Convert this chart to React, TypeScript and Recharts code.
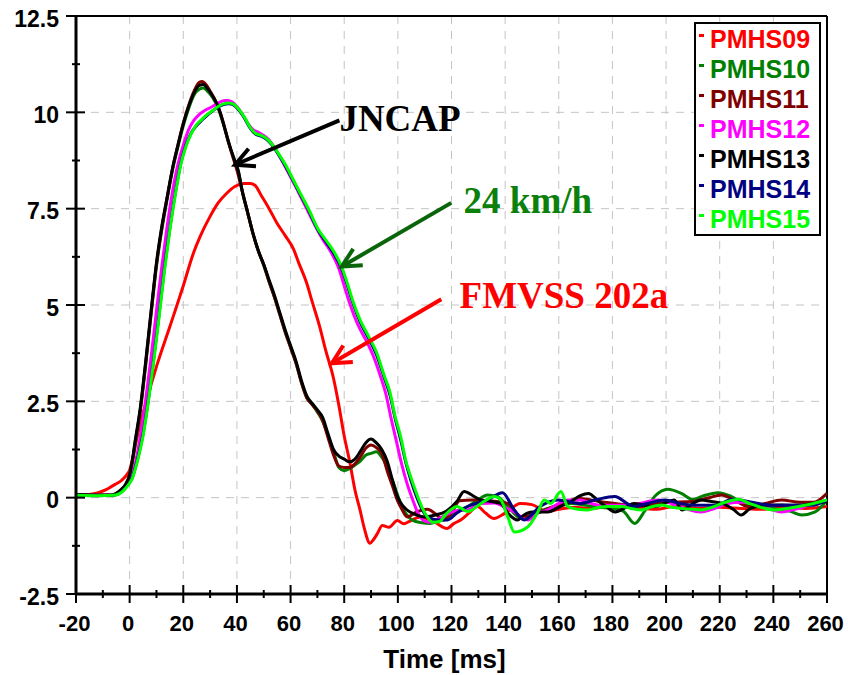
import React from 'react';
import { LineChart, Line, XAxis, YAxis, CartesianGrid, ReferenceLine, ReferenceDot, Legend, Label } from 'recharts';

type Pt = [number, number];

const pmhs09: Pt[] = [[-20,0.06],[-15,0.08],[-12,0.12],[-9,0.2],[-7,0.28],[-5,0.36],[-3,0.45],[-1,0.6],[0,0.72],[1.5,1.14],[3,1.65],[6.4,2.54],[10,3.4],[15,4.44],[20,5.5],[23.8,6.35],[26.3,6.78],[30,7.3],[33,7.65],[36.2,7.9],[39.4,8.08],[42.4,8.15],[45,8.15],[46.8,8.1],[49,7.85],[52,7.5],[54.9,7.13],[58,6.8],[61.1,6.45],[63,6.1],[66,5.57],[68,5.1],[71,4.4],[73,3.85],[76,3.1],[78,2.4],[80,1.6],[82,0.95],[84,0.2],[86,-0.35],[87.4,-0.77],[89.6,-1.18],[91,-1.08],[92.3,-0.94],[94.2,-0.72],[96.7,-0.77],[99.8,-0.59],[102.2,-0.68],[104.7,-0.6],[108.4,-0.5],[113.4,-0.62],[118.4,-0.8],[120.7,-0.68],[123.4,-0.58],[126.5,-0.4],[129.6,-0.23],[132.7,-0.4],[135.8,-0.54],[140,-0.4],[145.7,-0.15],[150,-0.18],[155.7,-0.36],[160,-0.3],[166,-0.25],[172,-0.28],[180,-0.22],[188,-0.25],[196,-0.3],[204,-0.22],[212,-0.28],[220,-0.25],[228,-0.28],[236,-0.3],[244,-0.25],[252,-0.28],[260,-0.23]];

const pmhs10: Pt[] = [[-20,0.08],[-12,0.07],[-7,0.07],[-3.5,0.18],[-1.5,0.32],[0,0.56],[1,0.9],[2,1.35],[4,2.25],[6,3.45],[8,4.75],[10,6.0],[12,6.95],[14,7.75],[16,8.5],[18,9.1],[20,9.65],[22,10.1],[24,10.45],[26,10.6],[27.5,10.63],[29,10.55],[31,10.38],[33,10.1],[35,9.68],[37,9.18],[39,8.78],[40.5,8.48],[42,7.95],[44,7.4],[46,6.85],[48,6.4],[50,6.02],[52,5.6],[54,5.2],[56,4.75],[58,4.3],[60,3.9],[62,3.5],[64,3.0],[66,2.6],[68,2.42],[70,2.22],[72,1.98],[74,1.6],[76,1.2],[78,0.78],[80,0.7],[82,0.75],[84,0.85],[86,0.95],[88,1.1],[90,1.15],[92,1.19],[94,1.05],[96,0.8],[98,0.45],[100,0.05],[102,-0.3],[104,-0.5],[106,-0.6],[109,-0.65],[112,-0.67],[115,-0.6],[118.5,-0.5],[122,-0.35],[126,-0.23],[130,-0.05],[133.4,0.07],[137,0.03],[141,-0.23],[146,-0.54],[150,-0.45],[155,-0.3],[160,-0.2],[165,-0.15],[170,-0.2],[175,-0.25],[180,-0.28],[184,-0.35],[188.3,-0.67],[192,-0.35],[196,0.05],[200.7,0.22],[205.7,0.11],[210,-0.05],[214,0.05],[219.4,0.13],[224.4,0.03],[230,-0.2],[236,-0.25],[242,-0.3],[246,-0.35],[250.6,-0.45],[255.6,-0.37],[260,-0.06]];

const pmhs11: Pt[] = [[-20,0.08],[-12,0.07],[-7,0.07],[-3.5,0.18],[-1.5,0.33],[0,0.58],[1,0.93],[2,1.4],[4,2.3],[6,3.5],[8,4.8],[10,6.05],[12,7.0],[14,7.8],[16,8.55],[18,9.15],[20,9.72],[22,10.18],[24,10.55],[26,10.78],[27,10.8],[28.5,10.72],[30,10.55],[32,10.3],[34,9.95],[36,9.45],[38,8.95],[40,8.5],[42,7.95],[44,7.4],[46,6.85],[48,6.4],[50,6.05],[52,5.6],[54,5.2],[56,4.75],[58,4.3],[60,3.9],[62,3.5],[64,3.0],[66,2.6],[68,2.42],[70,2.25],[72,2.0],[74,1.55],[76,1.11],[78,0.82],[80,0.78],[82,0.78],[84,0.88],[86,1.06],[88,1.28],[90,1.37],[92,1.3],[94,1.15],[96,0.7],[98,0.3],[100,-0.1],[101.5,-0.3],[103.5,-0.5],[107,-0.37],[111,-0.3],[114,-0.42],[117,-0.58],[120,-0.4],[123,-0.08],[128,-0.06],[134,-0.08],[141,-0.15],[146,-0.5],[152,-0.4],[159.6,-0.19],[168,-0.02],[175,-0.1],[181,-0.15],[190,-0.22],[200,-0.12],[210,-0.1],[216,0.0],[220.7,0.07],[225,-0.05],[230.7,-0.23],[237,-0.15],[243,-0.06],[250,-0.12],[255,-0.12],[260,0.11]];

const pmhs12: Pt[] = [[-20,0.07],[-12,0.06],[-6,0.07],[-2.2,0.22],[0,0.42],[1,0.58],[2,0.85],[3,1.2],[4,1.6],[6,2.55],[8,3.65],[10,4.85],[12,6.0],[14,7.05],[16,7.95],[18,8.65],[20,9.15],[22,9.55],[24,9.8],[26,9.95],[28,10.05],[30,10.12],[32,10.2],[34,10.28],[36,10.31],[38,10.28],[40,10.15],[42,9.95],[44,9.72],[46,9.55],[48,9.48],[50,9.4],[52,9.28],[54,9.08],[57,8.72],[60,8.32],[63,7.92],[66,7.5],[69,7.08],[72,6.7],[75,6.38],[78,5.95],[80,5.5],[82,5.05],[85,4.5],[88,4.1],[91,3.65],[93.5,3.15],[95.5,2.7],[97.5,2.05],[99.5,1.45],[101.5,0.85],[103.5,0.35],[105.5,-0.05],[107.5,-0.4],[109.6,-0.59],[112,-0.64],[115,-0.55],[118,-0.45],[121,-0.35],[126,-0.32],[131,-0.15],[136,-0.14],[140,-0.25],[143.4,-0.37],[148.4,-0.58],[152,-0.4],[155.9,-0.32],[160,-0.15],[163.3,-0.06],[168,-0.06],[172,-0.15],[176,-0.2],[180,-0.2],[185,-0.2],[190,-0.15],[197,-0.06],[203,-0.18],[208,-0.3],[213,-0.37],[218,-0.28],[223,-0.15],[228,-0.12],[233,-0.15],[238,-0.28],[243,-0.37],[248,-0.3],[253,-0.2],[260,-0.06]];

const pmhs13: Pt[] = [[-20,0.08],[-12,0.06],[-7,0.06],[-3.5,0.19],[-1.5,0.35],[0,0.6],[1,0.97],[2,1.45],[4,2.35],[6,3.55],[8,4.85],[10,6.1],[12,7.05],[14,7.8],[16,8.55],[18,9.15],[20,9.7],[22,10.15],[24,10.5],[26,10.7],[27.5,10.72],[29,10.62],[31,10.42],[33,10.15],[35,9.7],[37,9.2],[39,8.78],[40.5,8.48],[42,7.95],[44,7.4],[46,6.85],[48,6.4],[50,6.05],[52,5.65],[54,5.25],[56,4.8],[58,4.35],[60,3.95],[62,3.55],[64,3.05],[66,2.65],[68,2.45],[70,2.28],[72,2.08],[74,1.65],[76,1.25],[78,1.08],[80,1.0],[82,0.93],[84,1.0],[86,1.2],[88,1.42],[90,1.52],[92,1.42],[94,1.25],[96,0.95],[98,0.45],[100,0.0],[102,-0.22],[104,-0.35],[106,-0.42],[110,-0.5],[114,-0.45],[118,-0.35],[122,-0.1],[124.7,0.16],[128,0.05],[131,-0.06],[135,-0.1],[138.4,-0.15],[141,-0.4],[144.6,-0.58],[147,-0.45],[150,-0.37],[155.9,-0.37],[160,-0.25],[164,-0.12],[168,0.05],[171,0.11],[175,-0.1],[178,-0.25],[181,-0.37],[185,-0.25],[188,-0.15],[192,-0.2],[196,-0.23],[200,-0.12],[203,-0.06],[206,-0.32],[209,-0.2],[213,-0.06],[217,-0.1],[221,-0.15],[225,-0.3],[228,-0.45],[231,-0.3],[236,-0.2],[243,-0.19],[250,-0.2],[255,-0.15],[260,-0.1]];

const pmhs14: Pt[] = [[-20,0.06],[-12,0.05],[-6,0.06],[-2.2,0.2],[0,0.4],[1,0.52],[2,0.75],[3.3,1.1],[5,1.65],[7,2.55],[9,3.62],[11,4.78],[13,5.98],[15,7.0],[17,7.9],[19,8.65],[21,9.15],[23,9.47],[25,9.66],[27,9.8],[29,9.93],[31,10.04],[33,10.14],[35,10.2],[37,10.22],[39,10.18],[41,10.03],[43,9.83],[45,9.58],[47,9.43],[49,9.38],[51,9.3],[53,9.16],[55,8.96],[58,8.62],[61,8.22],[64,7.82],[67,7.42],[70,6.97],[73,6.66],[76,6.35],[79,5.95],[81,5.55],[83,5.1],[86,4.55],[89,4.15],[92,3.72],[95,3.1],[97,2.68],[99,2.05],[101,1.52],[103,0.9],[105,0.42],[107,0.02],[109,-0.3],[111,-0.5],[112.2,-0.54],[115,-0.58],[118.5,-0.58],[122,-0.4],[126,-0.23],[133.4,-0.06],[139,0.13],[143.4,-0.32],[147.1,-0.58],[153,-0.23],[159.6,-0.06],[168,-0.15],[174,-0.05],[180.8,0.03],[188,-0.23],[193,-0.15],[199.5,-0.06],[205,-0.15],[212,-0.2],[218,-0.2],[225,-0.04],[232,-0.12],[240,-0.2],[248,-0.2],[254,-0.2],[260,-0.06]];

const pmhs15: Pt[] = [[-20,0.06],[-12,0.05],[-6,0.06],[-2.2,0.19],[0,0.38],[1,0.5],[2,0.72],[3.3,1.06],[5,1.6],[7,2.5],[9,3.55],[11,4.7],[13,5.9],[15,6.95],[17,7.85],[19,8.62],[21,9.12],[23,9.45],[25,9.68],[27,9.82],[29,9.95],[31,10.05],[33,10.15],[35,10.22],[37,10.24],[39,10.2],[41,10.05],[43,9.85],[45,9.6],[47,9.45],[49,9.4],[51,9.32],[53,9.18],[55,8.98],[58,8.65],[61,8.25],[64,7.85],[67,7.45],[70,7.0],[73,6.7],[76,6.4],[79,6.0],[81,5.6],[83,5.15],[86,4.6],[89,4.2],[92,3.78],[95,3.15],[97,2.75],[99,2.1],[101,1.6],[103,0.95],[105,0.5],[107,0.1],[109,-0.25],[111,-0.5],[113,-0.64],[115.5,-0.62],[118,-0.42],[120,-0.3],[122,-0.23],[126,-0.36],[131,-0.15],[136,0.03],[138.4,-0.06],[141,-0.5],[143.4,-0.89],[148.4,-0.76],[152,-0.4],[154.6,-0.06],[157,-0.15],[160.8,0.16],[163.3,-0.23],[167,-0.3],[170.8,-0.32],[175,-0.25],[178.3,-0.23],[183.3,-0.23],[187,-0.28],[190.8,-0.32],[194,-0.25],[198.3,-0.19],[202,-0.25],[205.7,-0.28],[210,-0.3],[213,-0.32],[218,-0.23],[222,-0.12],[227,-0.04],[231,-0.15],[234.4,-0.23],[240.6,-0.32],[245,-0.28],[249.4,-0.23],[255,-0.15],[260,-0.06]];

const seriesNames = ['PMHS09', 'PMHS10', 'PMHS11', 'PMHS12', 'PMHS13', 'PMHS14', 'PMHS15'];
const seriesColors = ['#ff0000', '#008000', '#800000', '#ff00ff', '#000000', '#000080', '#00ff00'];
const seriesPoints = [pmhs09, pmhs10, pmhs11, pmhs12, pmhs13, pmhs14, pmhs15];

const xTicks = [-20, -10, 0, 10, 20, 30, 40, 50, 60, 70, 80, 90, 100, 110, 120, 130, 140, 150, 160, 170, 180, 190, 200, 210, 220, 230, 240, 250, 260];
const yTicks = [-2.5, -1.25, 0, 1.25, 2.5, 3.75, 5, 6.25, 7.5, 8.75, 10, 11.25, 12.5];
const xGridValues = [0, 20, 40, 60, 80, 100, 120, 140, 160, 180, 200, 220, 240];
const yGridValues = [0, 2.5, 5, 7.5, 10];

const annotationTexts = ['JNCAP', '24 km/h', 'FMVSS 202a'];
const annotationTextColors = ['#000000', '#0b800b', '#ff0000'];
const annotationArrowColors = ['#000000', '#0a640a', '#ff0000'];
const annotationTails: Pt[] = [[78.2, 9.79], [119.9, 7.65], [116.2, 5.15]];
const annotationHeads: Pt[] = [[39.3, 8.64], [79.1, 6.0], [75.4, 3.49]];
const annotationTextAt: Pt[] = [[78.2, 9.51], [124.5, 7.38], [123.0, 4.92]];

const SANS = '"Liberation Sans", Arial, Helvetica, sans-serif';
const SERIF = '"Liberation Serif", "Times New Roman", serif';

const XTick = (props: any) => {
  const { x, y, payload } = props;
  const v = payload.value;
  const major = Math.abs(v % 20) < 1e-6;
  const len = major ? 9 : 4;
  return (
    <g>
      <line x1={x} x2={x} y1={y - len} y2={y + len} stroke="#000" strokeWidth={2} />
      {major && (
        <text x={x - 1.5} y={y + 36.5} textAnchor="middle" fontFamily={SANS} fontWeight="bold" fontSize={22} fill="#000">
          {v}
        </text>
      )}
    </g>
  );
};

const YTick = (props: any) => {
  const { x, y, payload } = props;
  const v = payload.value;
  const q = v / 2.5;
  const major = Math.abs(q - Math.round(q)) < 1e-6;
  return (
    <g>
      <line x1={x - (major ? 10 : 4)} x2={x + (major ? 9 : 4)} y1={y} y2={y} stroke="#000" strokeWidth={2} />
      {major && (
        <text x={x - 17} y={y + 10.5} textAnchor="end" fontFamily={SANS} fontWeight="bold" fontSize={23} fill="#000">
          {String(v)}
        </text>
      )}
    </g>
  );
};

const makeArrow = (color: string) => (props: any) => {
  const { x1, y1, x2, y2 } = props;
  const ang = Math.atan2(y1 - y2, x1 - x2);
  const L = 21;
  const a = 0.47;
  const w1x = x2 + L * Math.cos(ang - a);
  const w1y = y2 + L * Math.sin(ang - a);
  const w2x = x2 + L * Math.cos(ang + a);
  const w2y = y2 + L * Math.sin(ang + a);
  return (
    <g>
      <line x1={x1} y1={y1} x2={x2} y2={y2} stroke={color} strokeWidth={4} />
      <polyline points={`${w1x},${w1y} ${x2},${y2} ${w2x},${w2y}`} fill="none" stroke={color} strokeWidth={4} />
    </g>
  );
};

const makeText = (text: string, color: string) => (props: any) => (
  <text x={props.cx} y={props.cy} fontFamily={SERIF} fontWeight="bold" fontSize={37} fill={color}>
    {text}
  </text>
);

const LegendBox = () => (
  <div style={{ boxSizing: 'border-box', width: 127, height: 214, border: '2px solid #000', background: '#fff' }}>
    {seriesNames.map((n, i) => (
      <div key={n} style={{ position: 'relative', height: 30 }}>
        <span style={{ position: 'absolute', left: 3, top: 10, width: 5, height: 3, background: seriesColors[i] }} />
        <span
          style={{
            position: 'absolute',
            left: 14,
            top: 0,
            lineHeight: '30px',
            fontFamily: SANS,
            fontWeight: 700,
            fontSize: 25,
            color: seriesColors[i],
            whiteSpace: 'nowrap',
          }}
        >
          {n}
        </span>
      </div>
    ))}
  </div>
);

const toRows = (pts: Pt[]) => pts.map(([t, v]) => ({ t, v }));

export default function App() {
  return (
    <div style={{ position: 'absolute', left: 0, top: 0, width: 848, height: 675, background: '#fff' }}>
      <LineChart width={848} height={675} margin={{ top: 16, right: 21, bottom: 31, left: 16 }}>
        <CartesianGrid
          stroke="#c4c4c4"
          strokeDasharray="8 7"
          horizontalValues={yGridValues}
          verticalValues={xGridValues}
        />
        <XAxis
          type="number"
          dataKey="t"
          domain={[-20, 260]}
          ticks={xTicks}
          interval={0}
          allowDataOverflow
          height={50}
          tickSize={0}
          tickMargin={0}
          tickLine={false}
          axisLine={{ stroke: '#000', strokeWidth: 3 }}
          tick={<XTick />}
        >
          <Label
            content={(p: any) => {
              const vb = p.viewBox || { x: 76, y: 594, width: 751 };
              return (
                <text x={vb.x + vb.width / 2 - 7} y={vb.y + 74} textAnchor="middle" fontFamily={SANS} fontWeight="bold" fontSize={26} fill="#000">
                  Time [ms]
                </text>
              );
            }}
          />
        </XAxis>
        <YAxis
          type="number"
          domain={[-2.5, 12.5]}
          ticks={yTicks}
          interval={0}
          allowDataOverflow
          width={60}
          tickSize={0}
          tickMargin={0}
          tickLine={false}
          axisLine={{ stroke: '#000', strokeWidth: 3 }}
          tick={<YTick />}
        />
        <ReferenceLine y={12.5} stroke="#000" strokeWidth={2} />
        <ReferenceLine x={260} stroke="#000" strokeWidth={2} />
        {seriesPoints.map((pts, i) => (
          <Line
            key={seriesNames[i]}
            name={seriesNames[i]}
            data={toRows(pts)}
            dataKey="v"
            type="monotone"
            stroke={seriesColors[i]}
            strokeWidth={3}
            dot={false}
            activeDot={false}
            isAnimationActive={false}
          />
        ))}
        {annotationTexts.map((t, i) => (
          <ReferenceLine
            key={'arrow' + t}
            segment={[
              { x: annotationTails[i][0], y: annotationTails[i][1] },
              { x: annotationHeads[i][0], y: annotationHeads[i][1] },
            ]}
            ifOverflow="visible"
            shape={makeArrow(annotationArrowColors[i])}
          />
        ))}
        {annotationTexts.map((t, i) => (
          <ReferenceDot
            key={'text' + t}
            x={annotationTextAt[i][0]}
            y={annotationTextAt[i][1]}
            r={0}
            ifOverflow="visible"
            shape={makeText(t, annotationTextColors[i])}
          />
        ))}
        <Legend
          layout="vertical"
          align="center"
          verticalAlign="middle"
          content={<LegendBox />}
          wrapperStyle={{ left: 694, top: 22, width: 127, height: 214 }}
        />
      </LineChart>
    </div>
  );
}
